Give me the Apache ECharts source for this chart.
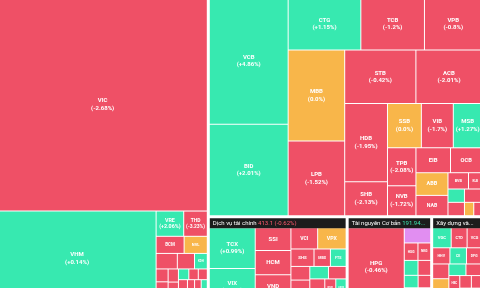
<!DOCTYPE html>
<html>
<head>
<meta charset="utf-8">
<script src="https://cdn.jsdelivr.net/npm/echarts@6/dist/echarts.min.js"></script>
<style>
html, body { margin: 0; padding: 0; background: #fff; overflow: hidden; }
#main { width: 480px; height: 288px; }
</style>
</head>
<body>
<div id="main"></div>
<script>
// nhom nganh
var sectorNames = ['Bất động sản', 'Ngân hàng', 'Dịch vụ tài chính', 'Tài nguyên Cơ bản', 'Xây dựng và Vật liệu'];
var sectorIndex = ['', '', '413.1', '191.94', ''];
var sectorChanges = [null, null, -0.62, 0.35, null];

var reNames = ['VIC','VHM','VRE','THD','BCM','NVL','KBC','SIP','KDH','PDR','DIG','DXG','NLG','CEO','HDG','IJC','SZC','TCH','NTL','DXS','SCR','HDC','KHG','VPI','CRE','LDG','HQC','QCG','AGG','TDC','FIR','ITC'];
var reValues = [46050, 15500, 720, 615, 495, 410, 340, 275, 205, 160, 155, 145, 140, 130, 125, 115, 105, 100, 90, 80, 75, 70, 65, 60, 55, 50, 45, 45, 40, 40, 35, 35];
var reChanges = [-2.68, 0.14, 2.06, -3.23, -1.46, 0, -0.87, -1.34, 1.2, -1.1, -2.3, -1.8, -0.9, -2.5, 6.95, 1.05, -1.6, -2.1, -0.7, -3.1, 0.5, -1.9, -1.2, 0.8, -2.4, 0, -1.5, -2.9, 1.4, -0.6, -1.3, 0];

var bankNames = ['VCB','BID','CTG','TCB','VPB','MBB','LPB','STB','ACB','HDB','SHB','SSB','VIB','MSB','TPB','NVB','EIB','OCB','ABB','NAB','BVB','KLB','VAB','PGB','SGB','BAB','VBB'];
var bankValues = [10420, 7540, 3960, 3465, 3135, 5385, 4415, 3985, 3700, 3500, 1520, 1570, 1480, 1330, 1130, 890, 900, 820, 760, 680, 350, 230, 230, 230, 245, 130, 115];
var bankChanges = [4.86, 2.01, 1.15, -1.2, -0.8, 0, -1.52, -0.42, -2.01, -1.95, -2.13, 0, -1.7, 1.27, -2.08, -1.72, -0.56, -1.93, 0, -1.22, -4.08, -1.6, 1.3, -2.2, -1.5, 0, -0.9];

var finNames = ['TCX','VIX','SSI','HCM','VND','VCI','VPX','SHS','MBS','FTS','BSI','CTS','VDS','ORS','AGR','BVS','TVS','EVF','APG','DSE'];
var finValues = [2153, 1990, 938, 1000, 1282, 656, 699, 464, 330, 316, 297, 282, 282, 268, 254, 234, 234, 234, 220, 213];
var finChanges = [0.99, 1.6, -1.88, -3.72, -1.9, -0.53, 0, -1.14, -1.1, 0.8, -1.5, -2.2, -0.9, 1.1, -1.7, -0.6, 0, -1.3, 2.1, -0.8];

var resNames = ['HPG','KSV','HSG','NKG','MSR','TVN','VGS','SMC','TLH','KSB','HMC','DTL'];
var resValues = [5110, 469, 278, 258, 239, 220, 201, 182, 167, 153, 129, 110];
var resChanges = [-0.46, 9.95, -1.2, -0.8, 1.5, -2.1, 0.9, -1.6, 0, -2.4, 1.2, -0.7];

var conNames = ['VGC','CTD','VCG','HHV','CII','DPG','PC1','FCN','HT1','BCC','LCG','HBC','C4G','CTI','HUT','PTB','VPG','SCG','HTN','DHA'];
var conValues = [440, 378, 354, 330, 316, 297, 282, 268, 254, 234, 220, 206, 187, 172, 158, 144, 120, 100, 57, 48];
var conChanges = [2.74, -1.5, -4.05, -1.2, 1.1, -2.2, -0.9, 0, -1.8, 1.6, -2.6, -1.1, 0.7, -3.0, -1.4, 2.2, 0, -0.8, -1.9, 1.3];

var stocks = [
    [reNames, reValues, reChanges],
    [bankNames, bankValues, bankChanges],
    [finNames, finValues, finChanges],
    [resNames, resValues, resChanges],
    [conNames, conValues, conChanges]
];

function fmtChg(c){
    if (c === 0) return '0.0';
    return (c > 0 ? '+' : '') + c;
}
function colorOf(c){
    if (c >= 6.9) return '#e18ef1';
    if (c > 0) return '#37e9b0';
    if (c < 0) return '#ef5066';
    return '#f8b64a';
}

var data = sectorNames.map(function(s, i){
    var names = stocks[i][0], vals = stocks[i][1], chgs = stocks[i][2];
    return {
        name: s,
        idx: sectorIndex[i],
        chg: sectorChanges[i],
        children: names.map(function(n, j){
            var fs = Math.max(2, Math.min(6, Math.sqrt(vals[j]) / 5));
            return {
                name: n,
                value: vals[j],
                chg: chgs[j],
                itemStyle: { color: colorOf(chgs[j]) },
                label: { fontSize: fs, lineHeight: fs + 1.5 }
            };
        })
    };
});

var chart = echarts.init(document.getElementById('main'));
chart.setOption({
    animation: false,
    series: [{
        type: 'treemap',
        left: -1.5,
        top: -11.5,
        width: 483,
        height: 317,
        sort: false,
        squareRatio: 1,
        roam: false,
        nodeClick: false,
        breadcrumb: { show: false },
        emphasis: { disabled: true },
        levels: [
            {
                itemStyle: { borderWidth: 0, gapWidth: 3, borderColor: '#fff' },
                upperLabel: { show: false }
            },
            {
                itemStyle: { borderWidth: 0, gapWidth: 1, borderColor: '#fff' },
                upperLabel: {
                    show: true,
                    height: 10,
                    padding: [0, 3],
                    backgroundColor: '#1c1c1c',
                    fontFamily: 'Roboto, sans-serif',
                    fontSize: 6,
                    lineHeight: 10,
                    color: '#fff',
                    formatter: function(p){
                        var d = p.data;
                        if (!d.idx) return '{n|' + p.name + '}';
                        var cls = d.chg < 0 ? 'r' : 'g';
                        return '{n|' + p.name + '} {' + cls + '|' + d.idx + ' (' + fmtChg(d.chg) + '%)}';
                    },
                    rich: {
                        n: { color: '#fff', fontSize: 6, lineHeight: 10, fontFamily: 'Roboto, sans-serif' },
                        r: { color: '#ff5a6e', fontSize: 6, lineHeight: 10, fontFamily: 'Roboto, sans-serif' },
                        g: { color: '#3ee8b0', fontSize: 6, lineHeight: 10, fontFamily: 'Roboto, sans-serif' }
                    }
                }
            },
            {
                itemStyle: { borderWidth: 0, gapWidth: 0 },
                label: {
                    show: true,
                    position: 'inside',
                    align: 'center',
                    verticalAlign: 'middle',
                    color: '#fff',
                    fontFamily: 'Roboto, sans-serif',
                    fontWeight: 'bold',
                    overflow: 'none',
                    formatter: function(p){
                        return p.name + '\n(' + fmtChg(p.data.chg) + '%)';
                    }
                }
            }
        ],
        data: data
    }]
});
</script>
</body>
</html>
